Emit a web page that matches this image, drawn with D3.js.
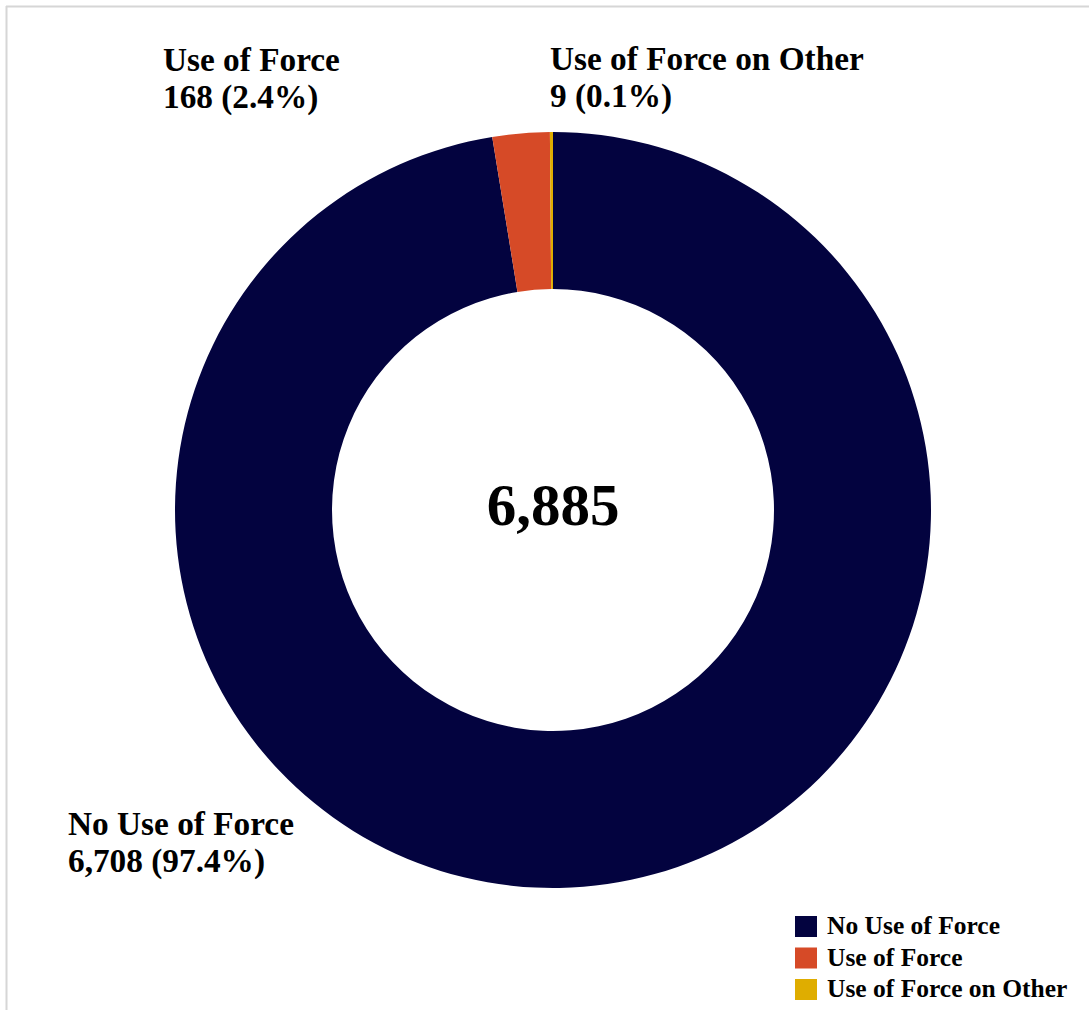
<!DOCTYPE html>
<html>
<head>
<meta charset="utf-8">
<script src="https://cdn.jsdelivr.net/npm/d3@7"></script>
<style>
  html, body { margin: 0; padding: 0; background: #fff; }
  svg { display: block; }
  text { font-family: "Liberation Serif", "Times New Roman", serif; font-weight: bold; fill: #000; }
</style>
</head>
<body>
<svg id="chart" width="1089" height="1010"></svg>
<script>
// Outcome categories and counts
const categories = ["No Use of Force", "Use of Force", "Use of Force on Other"];
const counts = [6708, 168, 9];
const colors = ["#03033f", "#d64a27", "#dfad00"];

const width = 1089, height = 1010;
const cx = 553, cy = 510;
const outerR = 378, innerR = 221;

const svg = d3.select("#chart");

// frame lines along the top and left edges
svg.append("line").attr("x1", 6).attr("y1", 6.5).attr("x2", width).attr("y2", 6.5)
  .attr("stroke", "#d6d6d6").attr("stroke-width", 2);
svg.append("line").attr("x1", 6.5).attr("y1", 6).attr("x2", 6.5).attr("y2", height)
  .attr("stroke", "#d6d6d6").attr("stroke-width", 2);

const data = categories.map((c, i) => ({ category: c, value: counts[i], color: colors[i] }));
const total = d3.sum(counts);

const pie = d3.pie().value(d => d.value).sort(null);
const arc = d3.arc().innerRadius(innerR).outerRadius(outerR);

const g = svg.append("g").attr("transform", `translate(${cx},${cy})`);
g.selectAll("path.slice")
  .data(pie(data))
  .join("path")
  .attr("class", "slice")
  .attr("d", arc)
  .attr("fill", d => d.data.color);

// total in the hole
g.append("text")
  .attr("text-anchor", "middle")
  .attr("y", 15)
  .style("font-size", "59px")
  .text(d3.format(",")(total));

// slice labels: name on the first line, count and share on the second
const fmtCount = d3.format(",");
const fmtPct = v => (v / total * 100).toFixed(1) + "%";
const labelPos = [
  { x: 68, y: 835 },
  { x: 163, y: 71 },
  { x: 550, y: 70 }
];
data.forEach((d, i) => {
  const t = svg.append("text")
    .attr("x", labelPos[i].x)
    .attr("y", labelPos[i].y)
    .style("font-size", "33.3px");
  t.append("tspan").attr("x", labelPos[i].x).text(d.category);
  t.append("tspan").attr("x", labelPos[i].x).attr("dy", 37)
    .text(`${fmtCount(d.value)} (${fmtPct(d.value)})`);
});

// legend
const legend = svg.append("g").attr("transform", "translate(795,916)");
const row = legend.selectAll("g.item")
  .data(data)
  .join("g")
  .attr("class", "item")
  .attr("transform", (d, i) => `translate(0,${i * 31.5})`);
row.append("rect")
  .attr("width", 22).attr("height", 21)
  .attr("fill", d => d.color);
row.append("text")
  .attr("x", 32).attr("y", 18)
  .style("font-size", "25.5px")
  .text(d => d.category);
</script>
</body>
</html>
